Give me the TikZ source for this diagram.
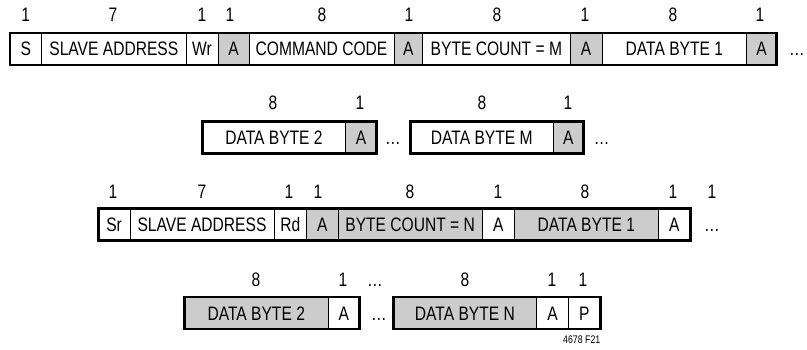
\documentclass[tikz,border=0pt]{standalone}
\usepackage{fontspec}
\setmainfont{Liberation Sans}[FakeStretch=0.8]
\definecolor{cellgray}{RGB}{204,204,204}
\tikzset{
  cell/.style={draw=black, line width=1pt, anchor=north west, minimum height=32pt,
    inner sep=0pt, outer sep=0pt, font=\fontsize{19.5}{19.5}\selectfont,
    text height=14pt, text depth=0pt},
  g/.style={fill=cellgray},
  w/.style={fill=white},
  frame/.style={draw=black, line width=2.9pt},
  lbl/.style={font=\fontsize{19.5}{19.5}\selectfont, inner sep=0pt, text height=14pt, text depth=0pt},
  dots/.style={font=\fontsize{19.5}{19.5}\selectfont, inner sep=0pt, text height=14pt, text depth=0pt},
  note/.style={font=\fontsize{11}{11}\selectfont, inner sep=0pt, anchor=east}
}
\begin{document}
\begin{tikzpicture}[x=1pt,y=-1pt]
\useasboundingbox (0,0) rectangle (807,350);

% ---------- Row 1 ----------
\node[cell,w,minimum width=31.7] (r1a) at (10,33) {S};
\node[cell,w,minimum width=144.3] (r1b) at (r1a.north east) {SLAVE ADDRESS};
\node[cell,w,minimum width=32] (r1c) at (r1b.north east) {Wr};
\node[cell,g,minimum width=31] (r1d) at (r1c.north east) {A};
\node[cell,w,minimum width=145] (r1e) at (r1d.north east) {COMMAND CODE};
\node[cell,g,minimum width=28.7] (r1f) at (r1e.north east) {A};
\node[cell,w,minimum width=147.3] (r1g) at (r1f.north east) {BYTE COUNT = M};
\node[cell,g,minimum width=32] (r1h) at (r1g.north east) {A};
\node[cell,w,minimum width=144.7] (r1i) at (r1h.north east) {DATA BYTE 1};
\node[cell,g,minimum width=29.8] (r1j) at (r1i.north east) {A};
\draw[frame] (r1a.north west) rectangle (r1j.south east);
\node[dots] (r1dots) at (797,49) {…};

\node[lbl] (l1a) at (25.7,15) {1};
\node[lbl] (l1b) at (113,15) {7};
\node[lbl] (l1c) at (202,15) {1};
\node[lbl] (l1d) at (230,15) {1};
\node[lbl] (l1e) at (322,15) {8};
\node[lbl] (l1f) at (409,15) {1};
\node[lbl] (l1g) at (497,15) {8};
\node[lbl] (l1h) at (585,15) {1};
\node[lbl] (l1i) at (673,15) {8};
\node[lbl] (l1j) at (760,15) {1};

% ---------- Row 2 ----------
\node[cell,w,minimum width=143.5] (r2a) at (202.2,121.5) {DATA BYTE 2};
\node[cell,g,minimum width=30.8] (r2b) at (r2a.north east) {A};
\draw[frame] (r2a.north west) rectangle (r2b.south east);
\node[dots] (r2d1) at (393,137.5) {…};
\node[cell,w,minimum width=142.5] (r2c) at (410.5,121.5) {DATA BYTE M};
\node[cell,g,minimum width=30.5] (r2e) at (r2c.north east) {A};
\draw[frame] (r2c.north west) rectangle (r2e.south east);
\node[dots] (r2d2) at (601.7,137.5) {…};

\node[lbl] (l2a) at (273,103) {8};
\node[lbl] (l2b) at (360,103) {1};
\node[lbl] (l2c) at (482,103) {8};
\node[lbl] (l2d) at (568,103) {1};

% ---------- Row 3 ----------
\node[cell,w,minimum width=31.8] (r3a) at (98.2,208.8) {Sr};
\node[cell,w,minimum width=144] (r3b) at (r3a.north east) {SLAVE ADDRESS};
\node[cell,w,minimum width=32.7] (r3c) at (r3b.north east) {Rd};
\node[cell,g,minimum width=31.3] (r3d) at (r3c.north east) {A};
\node[cell,g,minimum width=144.3] (r3e) at (r3d.north east) {BYTE COUNT = N};
\node[cell,w,minimum width=32] (r3f) at (r3e.north east) {A};
\node[cell,g,minimum width=144] (r3g) at (r3f.north east) {DATA BYTE 1};
\node[cell,w,minimum width=31.9] (r3h) at (r3g.north east) {A};
\draw[frame] (r3a.north west) rectangle (r3h.south east);
\node[dots] (r3dots) at (712,224.8) {…};

\node[lbl] (l3a) at (113,192) {1};
\node[lbl] (l3b) at (202,192) {7};
\node[lbl] (l3c) at (289,192) {1};
\node[lbl] (l3d) at (318,192) {1};
\node[lbl] (l3e) at (410,192) {8};
\node[lbl] (l3f) at (498,192) {1};
\node[lbl] (l3g) at (585,192) {8};
\node[lbl] (l3h) at (673,192) {1};
\node[lbl] (l3i) at (712,192) {1};

% ---------- Row 4 ----------
\node[cell,g,minimum width=144.1] (r4a) at (184.2,297) {DATA BYTE 2};
\node[cell,w,minimum width=31.2] (r4b) at (r4a.north east) {A};
\draw[frame] (r4a.north west) rectangle (r4b.south east);
\node[dots] (r4d1) at (379,313) {…};
\node[cell,g,minimum width=143.5] (r4c) at (393.2,297) {DATA BYTE N};
\node[cell,w,minimum width=31.6] (r4e) at (r4c.north east) {A};
\node[cell,w,minimum width=31.9] (r4f) at (r4e.north east) {P};
\draw[frame] (r4c.north west) rectangle (r4f.south east);

\node[lbl] (l4a) at (256,280) {8};
\node[lbl] (l4b) at (343,280) {1};
\node[dots] (l4c) at (375,280) {…};
\node[lbl] (l4d) at (465,280) {8};
\node[lbl] (l4e) at (552,280) {1};
\node[lbl] (l4f) at (583,280) {1};

\node[note] (fig) at (600.5,340) {4678 F21};
\end{tikzpicture}
\end{document}
